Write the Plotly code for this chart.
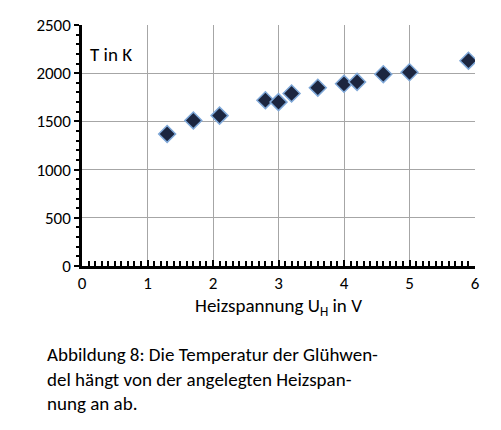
import plotly.graph_objects as go

voltage = [1.3, 1.7, 2.1, 2.8, 3.0, 3.2, 3.6, 4.0, 4.2, 4.6, 5.0, 5.9]
temperature = [1370, 1510, 1560, 1720, 1700, 1790, 1850, 1890, 1910, 1990, 2010, 2130]

fig = go.Figure(go.Scatter(
    x=voltage, y=temperature, mode="markers",
    marker=dict(symbol="diamond", size=13, color="#1c2640",
                line=dict(color="#7fa8d8", width=1.5))))

plot_w = 501 - 74 - 34
plot_h = 430 - 17 - 172
fnt = dict(family="Calibri, Carlito, Lato, Liberation Sans, Arial", color="black")
fig.update_layout(
    width=501, height=430, plot_bgcolor="white", paper_bgcolor="white",
    margin=dict(l=74, r=34, t=17, b=172, autoexpand=False), showlegend=False,
    font=dict(size=17, **fnt),
    xaxis=dict(range=[0, 6], dtick=1, showgrid=True, gridcolor="#a6a6a6", gridwidth=1,
               showline=True, linecolor="black", linewidth=2.5, zeroline=False,
               ticks="inside", ticklen=6, tickwidth=2, tickcolor="black",
               minor=dict(dtick=0.1, ticks="inside", ticklen=5, tickwidth=1.5, tickcolor="black", showgrid=False),
               tickfont=dict(size=17), title=dict(text="Heizspannung U<sub>H</sub> in V", font=dict(size=19), standoff=2)),
    yaxis=dict(range=[0, 2500], dtick=500, showgrid=True, gridcolor="#a6a6a6", gridwidth=1,
               showline=True, linecolor="black", linewidth=2.5, zeroline=False,
               ticks="outside", ticklen=5, tickwidth=2, tickcolor="black",
               minor=dict(dtick=100, ticks="outside", ticklen=3, tickwidth=1.5, tickcolor="black", showgrid=False),
               tickfont=dict(size=17)),
    annotations=[
        dict(text="T in K", x=0, y=2500, xref="x", yref="y", xanchor="left", yanchor="top",
             xshift=6, yshift=-16, showarrow=False, font=dict(size=19), bgcolor="white"),
        dict(text="Abbildung 8: Die Temperatur der Glühwen-<br>del hängt von der angelegten Heizspan-<br>nung an ab.",
             x=(37 - 74) / plot_w, y=(258 - 333) / plot_h, xref="paper", yref="paper",
             showarrow=False, align="left", xanchor="left", yanchor="top", font=dict(size=19)),
    ],
)

fig.write_html("out.html")
